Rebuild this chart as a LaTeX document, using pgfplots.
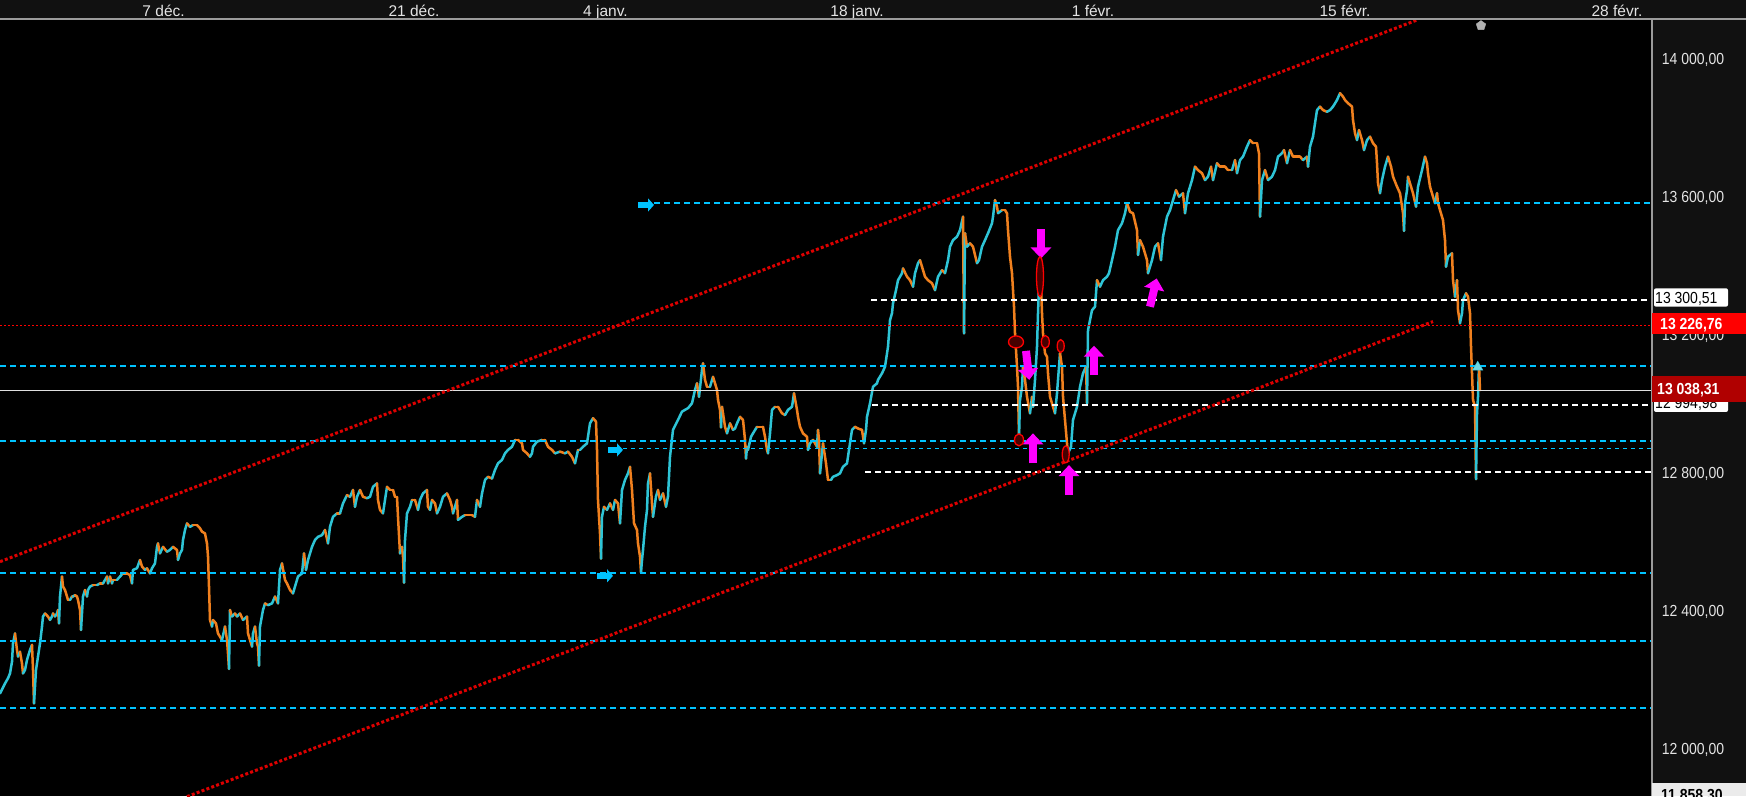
\documentclass[border=0pt]{standalone}
\usepackage{pgfplots}
\pgfplotsset{compat=1.18}
\usepackage{pgfplotstable}
\usetikzlibrary{arrows.meta}
\usepackage{fontspec}
\setmainfont{Liberation Sans}
\newfontfamily\rfont[FakeStretch=0.875]{Liberation Sans}
\definecolor{bgpanel}{RGB}{17,17,17}
\definecolor{cya}{RGB}{46,196,214}
\definecolor{ora}{RGB}{240,128,30}
\definecolor{dcy}{RGB}{0,195,255}
\definecolor{trd}{RGB}{220,0,0}
\definecolor{lbl}{RGB}{228,228,228}
\definecolor{brd}{RGB}{155,155,155}
\definecolor{boxred}{RGB}{255,0,0}
\definecolor{boxdred}{RGB}{176,0,0}
\definecolor{mag}{RGB}{255,0,255}
\definecolor{ellf}{RGB}{70,0,0}

\pgfplotstableread{
x y c
0 12159 1
5 12188 1
8 12203 1
10 12217 1
12 12251 1
13 12304 1
15 12333 0
17 12285 0
18 12266 1
20 12280 0
22 12246 0
23 12217 1
25 12227 1
27 12256 1
28 12266 1
30 12285 1
32 12300 0
33 12227 0
34 12130 1
35 12179 1
36 12227 1
38 12266 1
40 12304 1
42 12353 1
43 12382 1
45 12391 0
48 12382 0
50 12372 1
52 12382 1
53 12391 0
55 12382 1
57 12391 1
58 12401 0
59 12362 1
60 12440 1
62 12498 0
63 12469 0
65 12459 0
67 12440 0
68 12430 0
70 12430 1
72 12440 0
73 12440 1
75 12444 0
77 12440 0
78 12430 0
80 12401 0
81 12343 1
83 12440 1
85 12459 0
87 12440 1
88 12459 1
90 12469 1
93 12473 0
97 12473 1
100 12478 0
103 12478 1
107 12498 0
108 12478 1
110 12498 0
112 12478 1
113 12488 0
117 12488 1
120 12498 1
123 12507 0
127 12507 0
130 12502 0
132 12478 1
133 12517 1
137 12522 1
140 12546 0
142 12527 0
145 12517 1
147 12522 0
150 12507 1
152 12522 1
155 12536 1
157 12584 1
158 12594 0
160 12565 1
163 12584 0
167 12570 1
170 12575 1
173 12584 0
177 12575 0
178 12546 1
180 12565 1
182 12575 1
183 12604 1
185 12633 1
187 12652 0
190 12642 1
193 12647 0
197 12647 0
200 12638 0
202 12628 0
205 12623 0
207 12594 0
208 12556 0
209 12469 0
210 12372 0
212 12353 1
213 12372 0
216 12362 0
218 12333 0
222 12314 1
225 12353 0
227 12314 0
228 12275 0
229 12230 1
230 12401 0
232 12382 1
235 12391 0
237 12382 1
240 12391 0
243 12372 1
247 12382 0
248 12333 0
252 12295 1
253 12333 1
255 12353 0
257 12304 0
258 12295 0
259 12240 1
260 12353 1
263 12401 1
265 12420 0
268 12415 1
272 12420 1
275 12440 0
278 12420 1
280 12517 1
282 12536 0
285 12488 0
287 12478 0
290 12459 0
293 12449 1
295 12469 1
298 12498 1
302 12507 1
304 12565 0
306 12517 1
308 12546 1
312 12584 1
315 12604 1
318 12613 1
322 12618 1
325 12633 0
328 12594 1
330 12642 1
333 12671 1
337 12681 0
340 12681 1
343 12710 1
347 12734 0
350 12729 1
353 12749 0
355 12700 1
357 12729 1
360 12749 0
363 12729 0
367 12725 1
370 12729 1
373 12758 1
377 12768 0
378 12720 0
380 12691 0
383 12681 1
385 12720 1
387 12758 0
390 12749 0
393 12749 0
395 12729 0
397 12729 0
398 12671 0
400 12565 1
402 12584 0
403 12555 0
404 12480 1
405 12604 1
407 12681 1
410 12700 1
412 12720 0
415 12720 0
418 12691 1
420 12720 1
423 12739 1
427 12749 0
428 12700 0
430 12691 1
432 12720 0
435 12710 0
437 12681 1
440 12700 1
443 12729 1
447 12739 0
450 12720 0
452 12700 0
453 12681 1
457 12720 0
458 12662 1
462 12671 1
465 12676 0
468 12676 0
472 12676 0
475 12671 1
477 12720 0
480 12700 1
482 12739 1
485 12778 1
488 12787 0
492 12782 1
495 12807 1
498 12826 1
502 12836 1
505 12855 1
508 12865 1
512 12874 1
515 12894 0
518 12894 0
522 12884 0
523 12865 0
527 12855 0
530 12845 1
532 12855 1
533 12874 1
537 12889 1
542 12894 0
545 12894 0
548 12874 0
552 12865 0
555 12855 1
560 12860 0
565 12855 1
568 12860 0
572 12845 0
575 12826 1
578 12865 0
580 12865 1
583 12874 1
587 12884 1
590 12942 1
593 12957 0
596 12947 0
597 12865 0
598 12720 0
600 12623 0
601 12550 1
602 12671 1
604 12700 0
607 12691 1
610 12710 0
613 12691 1
615 12720 0
618 12710 0
620 12652 1
622 12749 1
625 12778 1
628 12797 1
630 12816 0
632 12749 0
634 12652 0
637 12633 0
638 12594 0
640 12556 0
641 12510 1
642 12546 1
643 12575 1
645 12642 1
647 12691 1
648 12768 1
650 12797 0
652 12710 0
653 12671 1
656 12730 1
658 12749 0
660 12720 1
663 12739 0
666 12700 1
668 12730 1
670 12845 1
673 12923 1
678 12952 1
682 12976 1
685 12981 1
688 12986 1
692 13000 1
695 13039 1
697 13058 0
699 13019 1
702 13097 1
703 13116 0
705 13068 0
707 13048 0
710 13048 1
713 13077 0
715 13058 0
717 13039 0
718 13010 0
720 12981 0
721 12930 1
722 12990 0
723 12971 0
725 12932 0
727 12913 1
730 12942 0
733 12923 1
735 12927 1
737 12942 1
740 12961 0
743 12952 0
745 12894 0
746 12840 1
747 12874 0
748 12865 1
751 12903 1
753 12913 1
757 12932 0
760 12932 0
763 12932 0
765 12903 0
767 12865 0
768 12855 1
770 12913 1
772 12981 1
775 12990 0
778 12990 0
782 12971 0
785 12966 1
788 12981 1
792 12990 1
794 13029 0
797 12981 0
798 12961 0
800 12932 0
803 12913 0
807 12903 0
808 12865 1
810 12884 1
813 12894 0
817 12874 1
818 12923 0
819 12894 0
820 12797 1
822 12855 1
823 12884 0
826 12826 0
828 12778 0
831 12778 1
833 12787 1
837 12792 1
840 12797 1
843 12816 1
847 12826 1
849 12865 1
852 12923 1
855 12932 0
858 12927 0
862 12923 0
864 12884 1
866 12923 1
867 12961 1
870 13000 1
873 13048 1
877 13058 1
878 13068 1
882 13087 1
885 13106 1
888 13164 1
890 13241 1
892 13261 1
893 13290 1
896 13328 1
898 13357 1
902 13377 1
903 13391 0
907 13367 0
910 13357 0
913 13338 1
915 13377 1
918 13406 1
920 13415 0
922 13396 0
925 13367 0
928 13357 0
932 13348 0
935 13328 1
938 13367 1
942 13386 0
945 13377 1
948 13415 1
950 13454 1
953 13473 1
957 13483 1
960 13502 1
963 13541 0
964 13203 1
965 13493 0
967 13454 1
970 13464 0
973 13454 0
977 13406 1
979 13415 1
982 13454 1
985 13473 1
988 13493 1
992 13522 1
993 13541 1
995 13589 0
997 13570 0
998 13551 1
1002 13560 0
1005 13560 0
1007 13551 0
1008 13502 0
1010 13425 0
1012 13377 0
1013 13328 0
1014 13280 0
1015 13203 0
1017 13106 0
1018 13048 0
1019 12900 1
1020 13010 1
1022 13048 1
1023 13106 0
1025 13068 0
1027 13019 0
1030 12971 1
1032 13019 0
1033 12990 1
1035 13068 1
1037 13164 1
1038 13261 1
1040 13420 0
1042 13261 0
1043 13203 0
1045 13145 0
1047 13135 0
1048 13087 0
1050 13019 0
1053 12990 0
1055 12971 1
1057 13029 1
1058 13068 1
1060 13145 0
1062 13106 0
1063 13019 0
1065 12952 0
1067 12884 0
1068 12855 1
1071 12874 1
1073 12952 1
1077 12990 1
1080 13048 1
1083 13087 1
1086 13106 0
1087 13000 1
1088 13212 1
1092 13270 1
1095 13280 1
1097 13357 0
1100 13338 1
1103 13357 1
1107 13367 1
1109 13377 1
1112 13415 1
1115 13454 1
1118 13502 1
1122 13522 1
1125 13551 1
1127 13580 0
1130 13555 0
1133 13551 0
1137 13502 0
1138 13430 1
1140 13473 0
1143 13454 0
1147 13415 0
1148 13377 1
1152 13415 1
1155 13454 1
1158 13464 0
1161 13415 1
1163 13483 1
1167 13541 1
1170 13560 1
1173 13589 1
1176 13618 0
1179 13599 1
1183 13609 0
1185 13551 1
1188 13609 1
1192 13647 1
1195 13686 0
1198 13676 0
1202 13667 0
1205 13647 1
1208 13657 1
1211 13686 0
1213 13647 1
1217 13696 0
1220 13686 0
1225 13686 0
1228 13676 0
1232 13676 1
1235 13705 0
1237 13667 1
1240 13705 1
1243 13715 1
1247 13744 1
1250 13763 0
1253 13754 0
1257 13754 0
1259 13725 0
1260 13541 1
1262 13647 1
1265 13676 0
1268 13647 1
1272 13657 1
1275 13676 1
1278 13715 1
1282 13725 1
1284 13734 0
1287 13696 1
1290 13734 0
1293 13715 0
1297 13715 0
1300 13715 0
1303 13705 1
1307 13715 0
1308 13686 1
1310 13744 1
1313 13773 1
1315 13812 1
1317 13850 1
1320 13860 0
1323 13850 0
1327 13845 1
1330 13850 1
1333 13860 1
1337 13879 1
1340 13899 0
1343 13889 0
1345 13879 0
1348 13870 0
1352 13860 0
1353 13821 0
1355 13783 0
1357 13763 1
1359 13792 0
1362 13763 0
1364 13734 1
1367 13763 1
1370 13773 0
1373 13754 0
1376 13744 0
1377 13696 0
1378 13638 0
1380 13609 1
1382 13647 1
1385 13686 1
1388 13715 0
1391 13686 0
1393 13657 0
1397 13628 0
1400 13609 0
1403 13551 0
1404 13500 1
1405 13580 1
1407 13618 1
1408 13657 0
1411 13628 0
1413 13609 0
1416 13570 1
1418 13628 1
1422 13676 1
1425 13715 0
1427 13696 0
1428 13667 0
1430 13628 0
1433 13599 0
1435 13580 1
1437 13609 0
1438 13580 0
1440 13560 0
1443 13531 0
1445 13473 0
1446 13396 1
1448 13425 1
1452 13435 0
1453 13357 0
1455 13309 1
1457 13357 0
1458 13270 0
1460 13232 1
1462 13261 1
1463 13299 1
1466 13319 0
1468 13309 0
1470 13261 0
1471 13164 0
1472 13087 0
1473 13010 0
1475 12990 0
1476 12780 1
1477 12971 1
1478 13019 1
1479 13110 0
1480 13038 0
}\price

\begin{document}
\begin{tikzpicture}[x=1pt,y=1pt]
\useasboundingbox (0,0) rectangle (1746,796);
\fill[bgpanel] (0,0) rectangle (1746,796);
\fill[black] (0,0) rectangle (1651.7,776);
\begin{axis}[
  at={(0,0)}, anchor=south west, scale only axis,
  width=1651.7pt, height=776pt,
  xmin=0, xmax=1651.7, ymin=11861.8, ymax=14111.1,
  axis line style={draw=none},
  clip mode=individual,
  scaled ticks=false,
  major tick length=0pt,
  xtick={163.6,414,605.5,857,1093,1345,1617},
  xticklabels={7 déc.,21 déc.,4 janv.,18 janv.,1 févr.,15 févr.,28 févr.},
  xticklabel pos=upper,
  xtick pos=upper,
  x tick label style={font=\fontsize{15.5}{15.5}\selectfont, text=lbl, anchor=base, inner sep=0pt, yshift=3.3pt},
  ytick={12000,12400,12800,13200,13600,14000},
  yticklabels={{12 000,00},{12 400,00},{12 800,00},{13 200,00},{13 600,00},{14 000,00}},
  yticklabel pos=upper,
  ytick pos=upper,
  y tick label style={font=\rfont\fontsize{16}{16}\selectfont, text=lbl, anchor=base west, inner sep=0pt, xshift=10pt, yshift=-5.7pt},
  point meta min=0, point meta max=1,
  colormap={ud}{color(0)=(ora) color(1)=(cya)},
]
% price series
\addplot[mesh, shader=flat corner, point meta=\thisrow{c}, line width=2.5pt, line cap=round] table[x=x,y=y] {\price};
% horizontal levels
\addplot[dcy, line width=2pt, dash pattern=on 6pt off 4pt] coordinates {(654,13581) (1651.7,13581)};
\addplot[dcy, line width=2pt, dash pattern=on 6pt off 4pt] coordinates {(0,13109) (1651.7,13109)};
\addplot[dcy, line width=2pt, dash pattern=on 6pt off 4pt] coordinates {(0,12892) (1651.7,12892)};
\addplot[dcy, line width=1pt, dash pattern=on 4pt off 4pt] coordinates {(623,12870) (1651.7,12870)};
\addplot[dcy, line width=2pt, dash pattern=on 6pt off 4pt] coordinates {(0,12509) (1651.7,12509)};
\addplot[dcy, line width=2pt, dash pattern=on 6pt off 4pt] coordinates {(0,12311) (1651.7,12311)};
\addplot[dcy, line width=2pt, dash pattern=on 6pt off 4pt] coordinates {(0,12117) (1651.7,12117)};
\addplot[white, line width=2pt, dash pattern=on 6pt off 4pt] coordinates {(871,13300.51) (1651.7,13300.51)};
\addplot[white, line width=2pt, dash pattern=on 6pt off 4pt] coordinates {(872,12994.98) (1651.7,12994.98)};
\addplot[white, line width=2pt, dash pattern=on 6pt off 4pt] coordinates {(865,12800) (1651.7,12800)};
\addplot[red, line width=1pt, dash pattern=on 2pt off 2pt] coordinates {(0,13226.76) (1651.7,13226.76)};
\addplot[white!88!black, line width=1.2pt] coordinates {(0,13038.31) (1651.7,13038.31)};
% trend channel
\addplot[trd, line width=3pt, dash pattern=on 3pt off 2.2pt] coordinates {(0,12541) (1417,14111)};
\addplot[trd, line width=3pt, dash pattern=on 3pt off 2.2pt] coordinates {(187,11860) (1433,13237)};
% cyan arrows
\addplot[dcy, line width=6pt, -{Triangle[width=13pt,length=6pt]}, quiver={u=\thisrow{u},v=\thisrow{v}}] table {
x y u v
638 13575 16 0
608 12865 15 0
597 12500 16 0
};
% magenta arrows
\addplot[mag, line width=8pt, -{Triangle[width=20pt,length=11pt]}, quiver={u=\thisrow{u},v=\thisrow{v}}] table {
x y u v
1041 13505 0 -85
1026 13152 3.3 -84
1033 12826 0 87
1069 12734 0 87
1094 13082 0 85
1150 13280 6.7 82
};
% red ellipses
\addplot[only marks, mark=*, mark size=3.5pt, mark options={draw=red, fill=ellf, line width=1.3pt, yscale=5.7}] coordinates {(1040,13367)};
\addplot[only marks, mark=*, mark size=6pt, mark options={draw=red, fill=ellf, line width=1.3pt, xscale=1.25}] coordinates {(1016,13178)};
\addplot[only marks, mark=*, mark size=4pt, mark options={draw=red, fill=ellf, line width=1.3pt, yscale=1.6}] coordinates {(1045.3,13178)};
\addplot[only marks, mark=*, mark size=3.5pt, mark options={draw=red, fill=ellf, line width=1.3pt, yscale=1.85}] coordinates {(1060.7,13166)};
\addplot[only marks, mark=*, mark size=4.5pt, mark options={draw=red, fill=ellf, line width=1.3pt, yscale=1.33}] coordinates {(1019,12894)};
\addplot[only marks, mark=*, mark size=3.5pt, mark options={draw=red, fill=ellf, line width=1.3pt, yscale=2.4}] coordinates {(1065.7,12852)};
% small markers
\addplot[only marks, mark=triangle*, mark size=6pt, mark options={draw=cya, fill=cya!70!white}] coordinates {(1477.7,13105)};
\addplot[only marks, mark=pentagon*, mark size=5pt, mark options={draw=gray!60, fill=gray!60}] coordinates {(1481,14095)};
\end{axis}
% frame lines
\draw[brd, line width=2pt] (0,776.5) -- (1746,776.5);
\draw[brd, line width=2pt] (1652.2,0) -- (1652.2,776.5);
% price labels on the scale
\fill[white, rounded corners=2pt] (1654,384) rectangle (1728,402.4);
\node[anchor=base west, inner sep=0pt, text=black, font=\rfont\fontsize{16}{16}\selectfont] at (1655,387.5) {12 994,98};
\fill[white, rounded corners=2pt] (1654,489.3) rectangle (1728,507.7);
\node[anchor=base west, inner sep=0pt, text=black, font=\rfont\fontsize{16}{16}\selectfont] at (1655,492.8) {13 300,51};
\fill[boxred] (1652,461.7) rectangle (1746,482.7);
\node[anchor=base west, inner sep=0pt, text=white, font=\rfont\bfseries\fontsize{16}{16}\selectfont] at (1660,466.5) {13 226,76};
\fill[boxdred] (1652,394.3) rectangle (1746,420);
\node[anchor=base west, inner sep=0pt, text=white, font=\rfont\bfseries\fontsize{16}{16}\selectfont] at (1657,401.5) {13 038,31};
\fill[white!92!black] (1652,0) rectangle (1746,13.3);
\node[anchor=base west, inner sep=0pt, text=black, font=\rfont\bfseries\fontsize{16}{16}\selectfont] at (1661,-4.5) {11 858,30};
\end{tikzpicture}
\end{document}
